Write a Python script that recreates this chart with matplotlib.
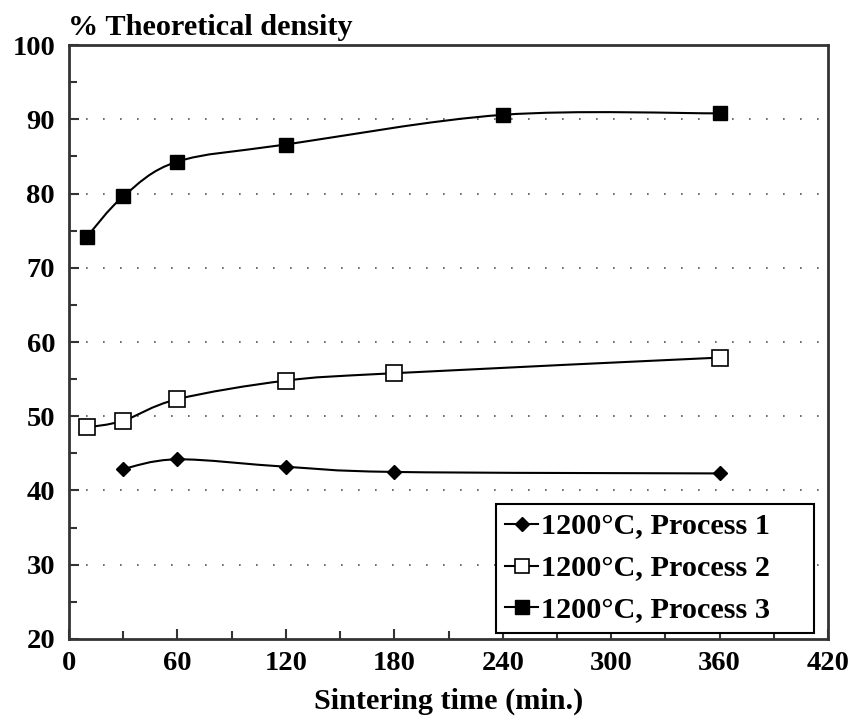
import matplotlib
matplotlib.use('Agg')
import matplotlib.pyplot as plt
from matplotlib.lines import Line2D
from matplotlib.patches import PathPatch
from matplotlib.path import Path
from matplotlib.ticker import MultipleLocator

# values
p1_time = [30, 60, 120, 180, 360]
p1_density = [42.9, 44.2, 43.2, 42.5, 42.3]
p2_time = [10, 30, 60, 120, 180, 360]
p2_density = [48.5, 49.4, 52.3, 54.8, 55.8, 57.9]
p3_time = [10, 30, 60, 120, 240, 360]
p3_density = [74.2, 79.6, 84.3, 86.6, 90.6, 90.8]
labels = ["1200°C, Process 1", "1200°C, Process 2", "1200°C, Process 3"]

plt.rcParams['font.family'] = ['Liberation Serif', 'DejaVu Serif']
plt.rcParams['font.weight'] = 'bold'
FS_TICK = 20.5
FS = 21.8
EDGE = "#333333"


def smooth_path(xs, ys):
    """Catmull-Rom style Bezier through the points (like spreadsheet smoothing)."""
    pts = list(zip(xs, ys))
    verts = [pts[0]]
    codes = [Path.MOVETO]
    n = len(pts)
    for i in range(n - 1):
        p_prev = pts[max(i - 1, 0)]
        p0 = pts[i]
        p1 = pts[i + 1]
        p_next = pts[min(i + 2, n - 1)]
        c1 = (p0[0] + (p1[0] - p_prev[0]) / 6, p0[1] + (p1[1] - p_prev[1]) / 6)
        c2 = (p1[0] - (p_next[0] - p0[0]) / 6, p1[1] - (p_next[1] - p0[1]) / 6)
        verts += [c1, c2, p1]
        codes += [Path.CURVE4] * 3
    return Path(verts, codes)


fig = plt.figure(figsize=(8.56, 7.17), dpi=100)
ax = fig.add_axes([0.0806, 0.1088, 0.8867, 0.8284])

for yv in range(30, 100, 10):
    ax.axhline(yv, color="#555555", lw=1.2, dashes=(1, 9.2), zorder=1)

series = [
    (p1_time, p1_density, dict(marker="D", markersize=7.5, markerfacecolor="black")),
    (p2_time, p2_density, dict(marker="s", markersize=11, markerfacecolor="white",
                               markeredgewidth=1.2)),
    (p3_time, p3_density, dict(marker="s", markersize=10.5, markerfacecolor="black")),
]

handles = []
for (xs, ys, mk), lab in zip(series, labels):
    ax.add_patch(PathPatch(smooth_path(xs, ys), facecolor="none",
                           edgecolor="black", lw=1.5, zorder=2))
    ax.plot(xs, ys, ls="none", color="black", markeredgecolor="black",
            zorder=3, **mk)
    hk = dict(mk)
    hk["markersize"] = mk["markersize"] * 0.9
    handles.append(Line2D([], [], color="black", lw=1.5,
                          markeredgecolor="black", **hk))

ax.set_xlim(0, 420)
ax.set_ylim(20, 100)
ax.xaxis.set_major_locator(MultipleLocator(60))
ax.xaxis.set_minor_locator(MultipleLocator(30))
ax.yaxis.set_major_locator(MultipleLocator(10))
ax.yaxis.set_minor_locator(MultipleLocator(5))
ax.tick_params(which="both", direction="in", color=EDGE, width=1.5,
               labelsize=FS_TICK, top=False, right=False)
ax.tick_params(which="major", length=7)
ax.tick_params(which="minor", length=6)
ax.tick_params(axis="x", pad=9)
ax.tick_params(axis="y", pad=10)
for s in ax.spines.values():
    s.set_color(EDGE)
    s.set_linewidth(2)

ax.set_xlabel("Sintering time (min.)", fontsize=FS, fontweight="bold", labelpad=8)
fig.text(0.079, 0.961, "% Theoretical density", fontsize=FS,
         fontweight="bold", ha="left", va="center")

# legend box stretched to the width it has in the original
leg = ax.legend(handles, labels, loc="lower left", mode="expand",
                bbox_to_anchor=(0.5626, 0.0101, 0.419, 0.2), borderaxespad=0,
                fontsize=FS, handlelength=1.1, handletextpad=0.1,
                labelspacing=0.48, borderpad=0.3, fancybox=False,
                framealpha=1, edgecolor="black")
leg.get_frame().set_linewidth(1.5)

fig.savefig("out.png", dpi=100)
